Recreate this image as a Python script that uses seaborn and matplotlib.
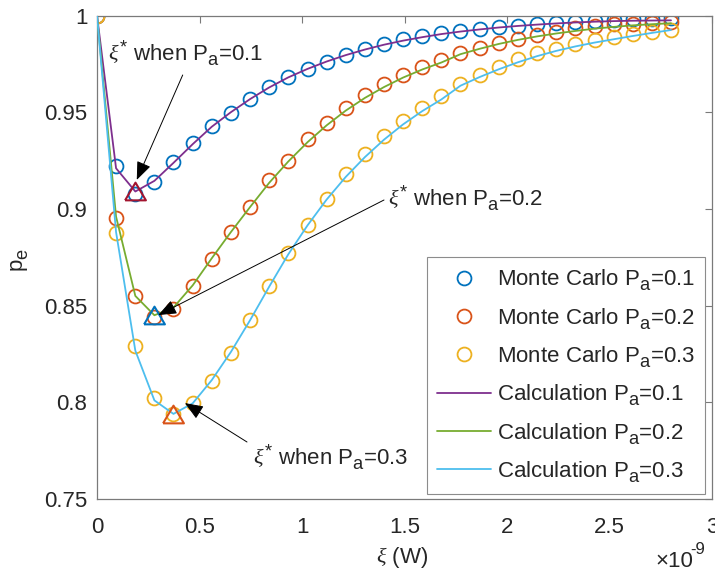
import numpy as np
import pandas as pd
import matplotlib
matplotlib.use("Agg")
import matplotlib.pyplot as plt
import seaborn as sns

# Transmit power xi, in units of 1e-9 W
xi_nW = [0.0, 0.093, 0.187, 0.28, 0.373, 0.467, 0.56, 0.653, 0.747, 0.84,
         0.933, 1.027, 1.12, 1.213, 1.307, 1.4, 1.493, 1.587, 1.68, 1.773,
         1.867, 1.96, 2.053, 2.147, 2.24, 2.333, 2.427, 2.52, 2.613, 2.707, 2.8]

# Monte Carlo estimates of p_e
pe_mc_01 = [1.0, 0.922, 0.9075, 0.914, 0.924, 0.934, 0.9427, 0.9496, 0.957, 0.9628,
            0.968, 0.9723, 0.9762, 0.9795, 0.9827, 0.9853, 0.9877, 0.9894, 0.9908, 0.992,
            0.993, 0.9939, 0.9947, 0.9955, 0.996, 0.9965, 0.997, 0.9976, 0.998, 0.9984, 0.9988]
pe_mc_02 = [1.0, 0.8955, 0.855, 0.844, 0.848, 0.860, 0.8743, 0.888, 0.9011, 0.9152,
            0.925, 0.936, 0.9444, 0.9522, 0.959, 0.9647, 0.9693, 0.9733, 0.977, 0.9805,
            0.9834, 0.986, 0.9879, 0.990, 0.9917, 0.9934, 0.9947, 0.9955, 0.9958, 0.9962, 0.9965]
pe_mc_03 = [1.0, 0.8877, 0.8293, 0.8022, 0.794, 0.7997, 0.8112, 0.8255, 0.8427, 0.8599,
            0.8774, 0.8915, 0.905, 0.9178, 0.9286, 0.9375, 0.9453, 0.9522, 0.9585, 0.9647,
            0.9693, 0.9736, 0.9774, 0.9805, 0.9827, 0.9851, 0.9874, 0.9891, 0.9905, 0.9915, 0.9927]

# Analytical p_e
pe_calc_01 = [1.0, 0.921, 0.909, 0.9145, 0.9238, 0.9335, 0.9425, 0.950, 0.9568, 0.9628,
              0.968, 0.9724, 0.9762, 0.9795, 0.9824, 0.9849, 0.987, 0.9888, 0.9904, 0.9917,
              0.9928, 0.9938, 0.9946, 0.9953, 0.9959, 0.9964, 0.9968, 0.9971, 0.9973, 0.9974, 0.9975]
pe_calc_02 = [1.0, 0.896, 0.855, 0.845, 0.849, 0.8605, 0.8745, 0.888, 0.901, 0.9135,
              0.9245, 0.9345, 0.9432, 0.9508, 0.9574, 0.963, 0.9679, 0.9721, 0.9757, 0.980,
              0.9828, 0.9853, 0.9874, 0.9892, 0.9907, 0.992, 0.9932, 0.9941, 0.9949, 0.9955, 0.996]
pe_calc_03 = [1.0, 0.888, 0.8267, 0.801, 0.794, 0.7995, 0.8115, 0.826, 0.8425, 0.8598,
              0.8765, 0.8915, 0.9048, 0.9165, 0.9268, 0.9358, 0.9437, 0.9506, 0.9566, 0.9637,
              0.9682, 0.9722, 0.9758, 0.979, 0.9817, 0.984, 0.986, 0.9877, 0.9894, 0.991, 0.9925]

pa_values = ["0.1", "0.2", "0.3"]
x_ticks = [0, 0.5, 1, 1.5, 2, 2.5, 3]
x_tick_labels = ["0", "0.5", "1", "1.5", "2", "2.5", "3"]
y_ticks = [0.75, 0.8, 0.85, 0.9, 0.95, 1.0]
y_tick_labels = ["0.75", "0.8", "0.85", "0.9", "0.95", "1"]

mc_colors = ["#0072BD", "#D95319", "#EDB120"]
calc_colors = ["#7E2F8E", "#77AC30", "#4DBEEE"]
star_colors = ["#A2142F", "#0072BD", "#D95319"]

sns.set_theme(style="white")
plt.rcParams["font.family"] = ["Liberation Sans", "DejaVu Sans"]
plt.rcParams["mathtext.fontset"] = "custom"
plt.rcParams["mathtext.rm"] = "Liberation Sans"
plt.rcParams["mathtext.it"] = "Liberation Serif:italic"
plt.rcParams["mathtext.bf"] = "Liberation Sans:bold"

# larger, lower subscripts (TeX-interpreter look)
try:
    from matplotlib import _mathtext as _mt
    _mt.SHRINK_FACTOR = 0.82
    _mt.FontConstantsBase.sub1 = 0.5
    _mt.FontConstantsBase.sub2 = 0.6
except Exception:
    pass

TXT = "#262626"
AX = "#7a7a7a"
FS = 16

fig = plt.figure(figsize=(7.15, 5.72), dpi=100)
ax = fig.add_axes([97 / 715, 1 - 499 / 572, 615 / 715, 483.5 / 572])

mc_sets = [pe_mc_01, pe_mc_02, pe_mc_03]
calc_sets = [pe_calc_01, pe_calc_02, pe_calc_03]

for pa, pe, c in zip(pa_values, mc_sets, mc_colors):
    df = pd.DataFrame({"xi": xi_nW, "pe": pe})
    sns.lineplot(data=df, x="xi", y="pe", ax=ax, color=c, marker="o",
                 linestyle="none", markersize=10, markerfacecolor="none",
                 markeredgecolor=c, markeredgewidth=1.3, errorbar=None,
                 label=r"Monte Carlo P$_{\rm a}$=" + pa, zorder=2)

for pa, pe, c in zip(pa_values, calc_sets, calc_colors):
    df = pd.DataFrame({"xi": xi_nW, "pe": pe})
    sns.lineplot(data=df, x="xi", y="pe", ax=ax, color=c, linewidth=1.3,
                 errorbar=None, label=r"Calculation P$_{\rm a}$=" + pa, zorder=3)

# optimal xi* (minimum of each analytical curve), drawn as open triangles
tri = [(-1, -0.85), (1, -0.85), (0, 0.85), (-1, -0.85)]
for pe, c in zip(calc_sets, star_colors):
    k = int(np.argmin(pe))
    ax.plot([xi_nW[k]], [pe[k]], linestyle="none", marker=tri, markersize=15,
            markerfacecolor="none", markeredgecolor=c, markeredgewidth=1.5,
            zorder=4, label="_nolegend_")

ax.set_xlim(0, 3)
ax.set_ylim(0.75, 1.0)
ax.set_xticks(x_ticks)
ax.set_xticklabels(x_tick_labels)
ax.set_yticks(y_ticks)
ax.set_yticklabels(y_tick_labels)
ax.tick_params(axis="both", direction="in", top=True, right=True, length=5,
               width=0.8, color=AX, labelsize=FS, labelcolor=TXT)
ax.tick_params(axis="x", pad=13)
ax.tick_params(axis="y", pad=7)
for s in ax.spines.values():
    s.set_color(AX)
    s.set_linewidth(0.9)
    s.set_visible(True)

ax.set_xlabel(r"$\xi$ (W)", fontsize=FS, color=TXT)
ax.xaxis.set_label_coords((402 - 97) / 615, (499 - 558) / 483.5)
ax.xaxis.label.set_va("center")
ax.set_ylabel(r"p$_{\rm e}$", fontsize=FS, color=TXT)
ax.yaxis.set_label_coords((20 - 97) / 615, (499 - 260) / 483.5)
ax.yaxis.label.set_va("center")

# x-axis scale factor
fig.text(655 / 715, 1 - 567 / 572, "×10", fontsize=FS, color=TXT,
         ha="left", va="baseline")
fig.text(690 / 715, 1 - 554 / 572, "-9", fontsize=12, color=TXT,
         ha="left", va="baseline")

leg = ax.legend(loc="lower right", bbox_to_anchor=(0.9886, 0.0103), fontsize=FS,
                frameon=True, fancybox=False, edgecolor="#8c8c8c", framealpha=1,
                borderpad=0.45, labelspacing=0.6, handlelength=2.45,
                handletextpad=0.25, borderaxespad=0)
leg.get_frame().set_linewidth(0.8)
for t in leg.get_texts():
    t.set_color(TXT)

# annotations for xi*
ann_text = [r"$\xi^{*}$ when P$_{\rm a}$=" + pa for pa in pa_values]
ann_text_px = [(108, 572 - 60), (388, 572 - 205), (253, 572 - 464)]
ann_tail_px = [(182.7, 572 - 75), (384, 572 - 200), (247, 572 - 442)]
ann_tip = [(0.194, 0.915), (0.299, 0.8451), (0.429, 0.7996)]
for txt, tpos, tail, tip in zip(ann_text, ann_text_px, ann_tail_px, ann_tip):
    ax.annotate(txt, xy=tpos, xycoords="figure pixels", fontsize=FS,
                color=TXT, ha="left", va="baseline", annotation_clip=False)
    ax.annotate("", xy=tip, xycoords="data", xytext=tail,
                textcoords="figure pixels",
                arrowprops=dict(arrowstyle="-|>,head_length=0.75,head_width=0.3",
                                color="black", lw=0.7, shrinkA=0, shrinkB=0,
                                mutation_scale=15),
                zorder=6)

fig.savefig("out.png", dpi=100, facecolor="white")
